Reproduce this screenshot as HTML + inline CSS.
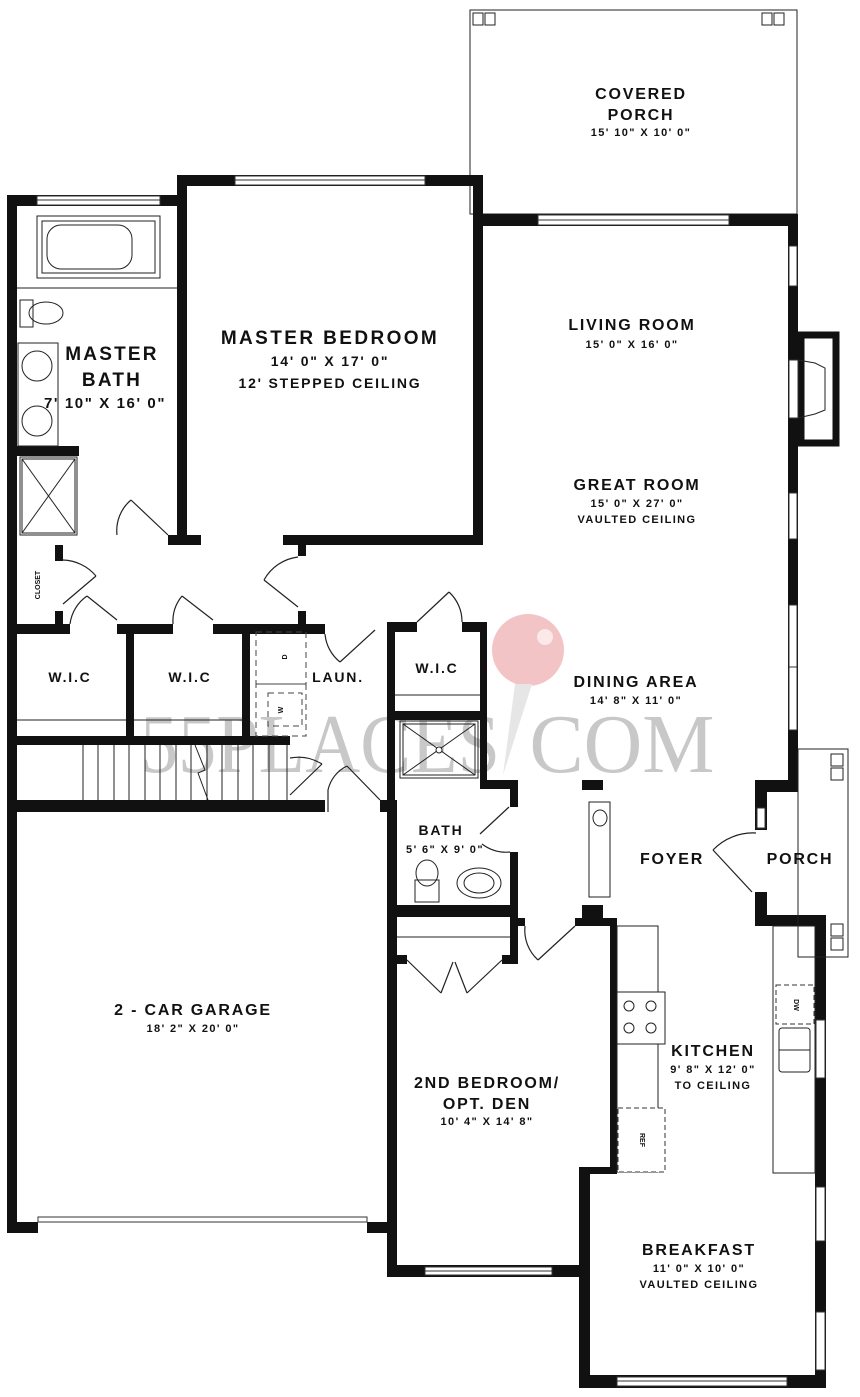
<!DOCTYPE html>
<html><head><meta charset="utf-8"><style>
html,body{margin:0;padding:0;background:#fff;}
svg{display:block;}
text{font-family:"Liberation Sans",sans-serif;font-weight:bold;fill:#111;text-anchor:middle;}
.t{font-size:16px;letter-spacing:1.8px;}
.d{font-size:11px;letter-spacing:1.4px;}
.w{fill:#fff;stroke:#333;stroke-width:1;}
.th{fill:none;stroke:#222;stroke-width:1;}
.door{fill:none;stroke:#222;stroke-width:1.2;}
</style></head><body>
<svg width="860" height="1397" viewBox="0 0 860 1397" xmlns="http://www.w3.org/2000/svg">
<rect width="860" height="1397" fill="#fff"/>

<!-- watermark -->
<circle cx="528" cy="650" r="36" fill="#f2c4c6"/>
<circle cx="545" cy="637" r="8" fill="#fbe8e8"/>
<polygon points="515,684 532,684 503,775" fill="#e6e6e6"/>
<text x="320" y="772" style="font-family:'Liberation Serif',serif;font-weight:normal;font-size:84px;fill:#c8c8c8;" textLength="360" lengthAdjust="spacingAndGlyphs">55PLACES</text>
<text x="622" y="772" style="font-family:'Liberation Serif',serif;font-weight:normal;font-size:84px;fill:#c8c8c8;" textLength="185" lengthAdjust="spacingAndGlyphs">COM</text>

<!-- covered porch -->
<rect x="470" y="10" width="327" height="204" class="th"/>
<rect x="473" y="13" width="10" height="12" class="th"/><rect x="485" y="13" width="10" height="12" class="th"/>
<rect x="762" y="13" width="10" height="12" class="th"/><rect x="774" y="13" width="10" height="12" class="th"/>

<g fill="#111">
<rect x="7" y="195" width="10" height="1038"/>
<rect x="7" y="195" width="173" height="11"/>
<rect x="177" y="175" width="306" height="11"/>
<rect x="177" y="175" width="10" height="370"/>
<rect x="473" y="175" width="10" height="370"/>
<rect x="473" y="214" width="325" height="12"/>
<rect x="788" y="214" width="10" height="578"/>
<rect x="283" y="535" width="200" height="10"/>
<rect x="168" y="535" width="33" height="10"/>
<rect x="17" y="446" width="62" height="10"/>
<rect x="55" y="545" width="8" height="16"/>
<rect x="55" y="611" width="8" height="23"/>
<rect x="298" y="545" width="8" height="11"/>
<rect x="298" y="611" width="8" height="23"/>
<rect x="7" y="624" width="63" height="10"/>
<rect x="117" y="624" width="56" height="10"/>
<rect x="213" y="624" width="112" height="10"/>
<rect x="387" y="622" width="30" height="10"/>
<rect x="462" y="622" width="25" height="10"/>
<rect x="126" y="634" width="8" height="111"/>
<rect x="242" y="634" width="8" height="111"/>
<rect x="7" y="736" width="283" height="9"/>
<rect x="387" y="622" width="8" height="180"/>
<rect x="480" y="622" width="7" height="158"/>
<rect x="387" y="711" width="100" height="9"/>
<rect x="7" y="800" width="318" height="12"/>
<rect x="380" y="800" width="17" height="12"/>
<rect x="387" y="800" width="10" height="477"/>
<rect x="7" y="1222" width="31" height="11"/>
<rect x="367" y="1222" width="30" height="11"/>
<rect x="480" y="780" width="38" height="9"/>
<rect x="510" y="780" width="8" height="27"/>
<rect x="510" y="852" width="8" height="112"/>
<rect x="387" y="905" width="131" height="12"/>
<rect x="397" y="955" width="10" height="9"/>
<rect x="502" y="955" width="16" height="9"/>
<rect x="518" y="918" width="7" height="8"/>
<rect x="575" y="918" width="42" height="8"/>
<rect x="582" y="780" width="21" height="10"/>
<rect x="582" y="905" width="21" height="14"/>
<rect x="610" y="918" width="7" height="256"/>
<rect x="579" y="1167" width="38" height="7"/>
<rect x="579" y="1167" width="11" height="221"/>
<rect x="579" y="1375" width="247" height="13"/>
<rect x="387" y="1265" width="203" height="12"/>
<rect x="815" y="915" width="11" height="473"/>
<rect x="755" y="780" width="12" height="50"/>
<rect x="755" y="892" width="12" height="34"/>
<rect x="755" y="780" width="43" height="12"/>
<rect x="755" y="915" width="71" height="11"/>
</g>

<!-- fireplace -->
<rect x="801" y="335" width="35" height="108" fill="#fff" stroke="#111" stroke-width="7"/>
<rect x="789" y="360" width="9" height="58" fill="#fff" stroke="#333"/>
<polyline points="798,360 815,363 825,368 825,410 815,414 798,418" class="th"/>

<!-- windows -->
<g class="w">
<rect x="37" y="196" width="123" height="9"/><line x1="37" y1="200" x2="160" y2="200" stroke="#333"/>
<rect x="235" y="176" width="190" height="9"/><line x1="235" y1="180" x2="425" y2="180" stroke="#333"/>
<rect x="538" y="215" width="191" height="10"/><line x1="538" y1="220" x2="729" y2="220" stroke="#333"/>
<rect x="789" y="246" width="8" height="40"/>
<rect x="789" y="493" width="8" height="46"/>
<rect x="789" y="605" width="8" height="62"/><rect x="789" y="667" width="8" height="63"/>
<rect x="617" y="1377" width="170" height="9"/><line x1="617" y1="1381" x2="787" y2="1381" stroke="#333"/>
<rect x="425" y="1267" width="127" height="8"/><line x1="425" y1="1271" x2="552" y2="1271" stroke="#333"/>
<rect x="816" y="1020" width="9" height="58"/>
<rect x="816" y="1187" width="9" height="54"/>
<rect x="816" y="1312" width="9" height="58"/>
<rect x="757" y="808" width="8" height="20"/>
</g>

<rect x="38" y="1217" width="329" height="5" class="w"/>

<!-- master bath fixtures -->
<rect x="37" y="216" width="123" height="62" class="th"/>
<rect x="42" y="221" width="113" height="52" class="th"/>
<rect x="47" y="225" width="85" height="44" rx="14" class="th"/>
<line x1="17" y1="288" x2="177" y2="288" class="th"/>
<rect x="20" y="300" width="13" height="27" class="th"/>
<ellipse cx="46" cy="313" rx="17" ry="11" class="th"/>
<rect x="18" y="343" width="40" height="103" class="th"/>
<circle cx="37" cy="366" r="15" class="th"/>
<circle cx="37" cy="421" r="15" class="th"/>
<rect x="20" y="457" width="57" height="78" class="th"/>
<rect x="22" y="459" width="53" height="74" class="th"/>
<line x1="22" y1="459" x2="75" y2="533" class="th"/><line x1="75" y1="459" x2="22" y2="533" class="th"/>

<g class="door">
<line x1="168" y1="535" x2="131" y2="500"/><path d="M117,535 A40,40 0 0 1 131,500"/>
<line x1="63" y1="604" x2="96" y2="576"/><path d="M63,560 A45,45 0 0 1 96,576"/>
<line x1="117" y1="620" x2="87" y2="596"/><path d="M70,624 A40,40 0 0 1 87,596"/>
<line x1="213" y1="620" x2="182" y2="596"/><path d="M173,624 A40,40 0 0 1 182,596"/>
<line x1="298" y1="607" x2="264" y2="580"/><path d="M298,557 A45,45 0 0 0 264,580"/>
<line x1="340" y1="662" x2="375" y2="630"/><path d="M325,634 A40,40 0 0 0 340,662"/>
<line x1="417" y1="622" x2="449" y2="592"/><path d="M462,622 A40,40 0 0 0 449,592"/>
<line x1="290" y1="795" x2="322" y2="764"/><path d="M290,758 A45,45 0 0 1 322,764"/>
<line x1="380" y1="800" x2="347" y2="766"/><path d="M328,812 L328,790 A35,35 0 0 1 347,766"/>
<line x1="480" y1="834" x2="509" y2="807"/><path d="M482,844 A40,40 0 0 0 510,852"/>
<line x1="538" y1="960" x2="575" y2="926"/><path d="M525,926 A40,40 0 0 0 538,960"/>
<line x1="713" y1="850" x2="752" y2="892"/><path d="M713,850 A55,55 0 0 1 756,833"/>
<line x1="407" y1="960" x2="441" y2="993"/><line x1="453" y1="962" x2="441" y2="993"/>
<line x1="502" y1="960" x2="467" y2="993"/><line x1="455" y1="962" x2="467" y2="993"/>
</g>
<line x1="397" y1="937" x2="510" y2="937" class="th"/>

<line x1="17" y1="720" x2="126" y2="720" class="th"/>
<line x1="134" y1="720" x2="242" y2="720" class="th"/>
<line x1="395" y1="695" x2="480" y2="695" class="th"/>

<g fill="none" stroke="#444" stroke-dasharray="6,4">
<rect x="256" y="632" width="50" height="52"/>
<rect x="256" y="684" width="50" height="52"/>
<rect x="268" y="693" width="34" height="33"/>
</g>
<text x="287" y="657" style="font-size:7px" transform="rotate(-90 287 657)">D</text>
<text x="283" y="710" style="font-size:7px" transform="rotate(-90 283 710)">W</text>

<g class="th">
<line x1="83" y1="745" x2="83" y2="800"/><line x1="98" y1="745" x2="98" y2="800"/><line x1="114" y1="745" x2="114" y2="800"/>
<line x1="129" y1="745" x2="129" y2="800"/><line x1="145" y1="745" x2="145" y2="800"/><line x1="160" y1="745" x2="160" y2="800"/>
<line x1="176" y1="745" x2="176" y2="800"/><line x1="191" y1="745" x2="191" y2="800"/><line x1="207" y1="745" x2="207" y2="800"/>
<line x1="222" y1="745" x2="222" y2="800"/><line x1="238" y1="745" x2="238" y2="800"/><line x1="253" y1="745" x2="253" y2="800"/>
<line x1="269" y1="745" x2="269" y2="800"/><line x1="287" y1="745" x2="287" y2="800"/>
<polyline points="195,745 205,770 198,773 208,800"/>
</g>

<rect x="400" y="721" width="78" height="57" class="th"/>
<rect x="403" y="724" width="72" height="51" class="th"/>
<line x1="403" y1="724" x2="475" y2="775" class="th"/><line x1="475" y1="724" x2="403" y2="775" class="th"/>
<circle cx="439" cy="750" r="3" fill="#fff" stroke="#222"/>
<rect x="415" y="880" width="24" height="22" class="th"/>
<ellipse cx="427" cy="873" rx="11" ry="13" class="th"/>
<ellipse cx="479" cy="883" rx="22" ry="15" class="th"/>
<ellipse cx="479" cy="883" rx="15" ry="10" class="th"/>

<rect x="589" y="802" width="21" height="95" class="th"/>
<ellipse cx="600" cy="818" rx="7" ry="8" class="th"/>

<rect x="617" y="926" width="41" height="246" class="th"/>
<rect x="617" y="992" width="48" height="52" fill="#fff" stroke="#222"/>
<circle cx="629" cy="1006" r="5" class="th"/><circle cx="651" cy="1006" r="5" class="th"/>
<circle cx="629" cy="1028" r="5" class="th"/><circle cx="651" cy="1028" r="5" class="th"/>
<rect x="618" y="1108" width="47" height="64" fill="#fff" stroke="#333" stroke-dasharray="5,3"/>
<text x="640" y="1140" style="font-size:7px" transform="rotate(90 640 1140)">REF</text>
<rect x="773" y="926" width="42" height="247" class="th"/>
<rect x="776" y="985" width="38" height="39" fill="#fff" stroke="#333" stroke-dasharray="5,3"/>
<text x="794" y="1005" style="font-size:7px" transform="rotate(90 794 1005)">DW</text>
<rect x="779" y="1028" width="31" height="44" rx="3" class="th"/>
<line x1="779" y1="1050" x2="810" y2="1050" class="th"/>

<rect x="798" y="749" width="50" height="208" class="th"/>
<rect x="831" y="754" width="12" height="12" class="th"/><rect x="831" y="768" width="12" height="12" class="th"/>
<rect x="831" y="924" width="12" height="12" class="th"/><rect x="831" y="938" width="12" height="12" class="th"/>

<!-- labels -->
<text class="t" x="641" y="99">COVERED</text>
<text class="t" x="641" y="120">PORCH</text>
<text class="d" x="641" y="136">15' 10" X 10' 0"</text>
<text class="t" x="330" y="344" style="font-size:19px;letter-spacing:2.4px">MASTER BEDROOM</text>
<text class="d" x="330" y="366" style="font-size:14px;letter-spacing:1.8px">14' 0" X 17' 0"</text>
<text class="d" x="330" y="388" style="font-size:14px;letter-spacing:1.8px">12' STEPPED CEILING</text>
<text class="t" x="112" y="360" style="font-size:19px;letter-spacing:2.2px">MASTER</text>
<text class="t" x="112" y="386" style="font-size:19px;letter-spacing:2.2px">BATH</text>
<text class="d" x="105" y="408" style="font-size:15px;letter-spacing:1.6px">7' 10" X 16' 0"</text>
<text class="t" x="632" y="330">LIVING ROOM</text>
<text class="d" x="632" y="348">15' 0" X 16' 0"</text>
<text class="t" x="637" y="490">GREAT ROOM</text>
<text class="d" x="637" y="507">15' 0" X 27' 0"</text>
<text class="d" x="637" y="523">VAULTED CEILING</text>
<text class="t" x="636" y="687">DINING AREA</text>
<text class="d" x="636" y="704">14' 8" X 11' 0"</text>
<text class="t" x="70" y="682" style="font-size:14px">W.I.C</text>
<text class="t" x="190" y="682" style="font-size:14px">W.I.C</text>
<text class="t" x="437" y="673" style="font-size:14px">W.I.C</text>
<text class="t" x="338" y="682" style="font-size:14px">LAUN.</text>
<text x="40" y="585" style="font-size:7px" transform="rotate(-90 40 585)">CLOSET</text>
<text class="t" x="441" y="835" style="font-size:14px">BATH</text>
<text class="d" x="445" y="853">5' 6" X 9' 0"</text>
<text class="t" x="672" y="864">FOYER</text>
<text class="t" x="800" y="864">PORCH</text>
<text class="t" x="713" y="1056">KITCHEN</text>
<text class="d" x="713" y="1073">9' 8" X 12' 0"</text>
<text class="d" x="713" y="1089">TO CEILING</text>
<text class="t" x="487" y="1088">2ND BEDROOM/</text>
<text class="t" x="487" y="1109">OPT. DEN</text>
<text class="d" x="487" y="1125">10' 4" X 14' 8"</text>
<text class="t" x="193" y="1015">2 - CAR GARAGE</text>
<text class="d" x="193" y="1032">18' 2" X 20' 0"</text>
<text class="t" x="699" y="1255">BREAKFAST</text>
<text class="d" x="699" y="1272">11' 0" X 10' 0"</text>
<text class="d" x="699" y="1288">VAULTED CEILING</text>
</svg>
</body></html>
